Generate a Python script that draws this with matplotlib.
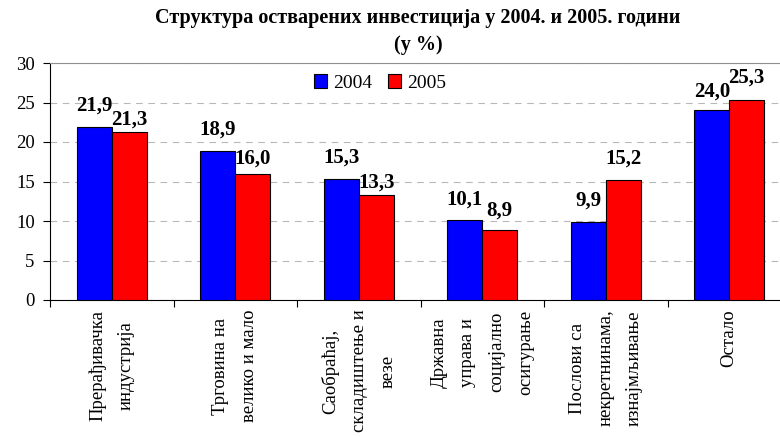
import numpy as np
import matplotlib.pyplot as plt

# Подаци
kategorije = ["Прерађивачка\nиндустрија",
              "Трговина на\nвелико и мало",
              "Саобраћај,\nскладиштење и\nвезе",
              "Државна\nуправа и\nсоцијално\nосигурање",
              "Послови са\nнекретнинама,\nизнајмљивање",
              "Остало"]
god_2004 = [21.9, 18.9, 15.3, 10.1, 9.9, 24.0]
god_2005 = [21.3, 16.0, 13.3, 8.9, 15.2, 25.3]
oznake_2004 = ["21,9", "18,9", "15,3", "10,1", "9,9", "24,0"]
oznake_2005 = ["21,3", "16,0", "13,3", "8,9", "15,2", "25,3"]

plt.rcParams['font.family'] = ['Liberation Serif', 'DejaVu Serif']

fig = plt.figure(figsize=(7.8, 4.37), dpi=100)
# површина графика иде мало преко десне ивице слике
ax = fig.add_axes([50 / 780, 137 / 437, 741 / 780, 237 / 437])

x = np.arange(len(kategorije))
w = 0.283
b1 = ax.bar(x - w / 2, god_2004, w, color='#0000FF', edgecolor='black',
            linewidth=0.8, label='2004', zorder=3)
b2 = ax.bar(x + w / 2, god_2005, w, color='#FF0000', edgecolor='black',
            linewidth=0.8, label='2005', zorder=3)

# размак натписа од врха стубића (у тачкама), као у Excel-у
pad_04 = [8, 8, 8, 8, 8, 6]
pad_05 = [1.5, 3.5, 2, 6.5, 8.5, 9]
for rect, txt, p in zip(b1, oznake_2004, pad_04):
    ax.annotate(txt, (rect.get_x() + rect.get_width() / 2, rect.get_height()),
                xytext=(0, p), textcoords='offset points', ha='center', va='bottom',
                fontsize=15, fontweight='bold')
for rect, txt, p in zip(b2, oznake_2005, pad_05):
    ax.annotate(txt, (rect.get_x() + rect.get_width() / 2, rect.get_height()),
                xytext=(0, p), textcoords='offset points', ha='center', va='bottom',
                fontsize=15, fontweight='bold')

ax.set_xlim(-0.5, len(kategorije) - 0.5)
ax.set_ylim(0, 30)
ax.set_yticks(range(0, 31, 5))
ax.tick_params(axis='y', labelsize=13.5, length=5, direction='out', pad=6)
ax.yaxis.grid(True, linestyle=(0, (6, 5)), color='#b8b8b8', linewidth=0.8, zorder=0)

# подеоци између група
ax.set_xticks(np.arange(len(kategorije) + 1) - 0.5, minor=False)
ax.set_xticklabels([])
ax.tick_params(axis='x', length=5, direction='out')
ax.set_xticks(x, minor=True)
ax.set_xticklabels(kategorije, minor=True, rotation=90, fontsize=13.5,
                   va='top', ha='center', multialignment='center', linespacing=1.9)
ax.tick_params(axis='x', which='minor', length=0, pad=7)

ax.spines['right'].set_visible(False)
ax.spines['top'].set_color('#909090')

fig.text(0.536, 0.958, "Структура остварених инвестиција у 2004. и 2005. години",
         ha='center', va='center', fontsize=14.5, fontweight='bold')
fig.text(0.536, 0.898, "(у %)", ha='center', va='center', fontsize=14.5, fontweight='bold')

ax.legend(loc='center', bbox_to_anchor=(380 / 780, 354 / 437), bbox_transform=fig.transFigure,
          ncol=2, frameon=False, fontsize=14, handlelength=0.7, handleheight=0.7,
          handletextpad=0.3, columnspacing=0.8)

fig.savefig('out.png', dpi=100)
